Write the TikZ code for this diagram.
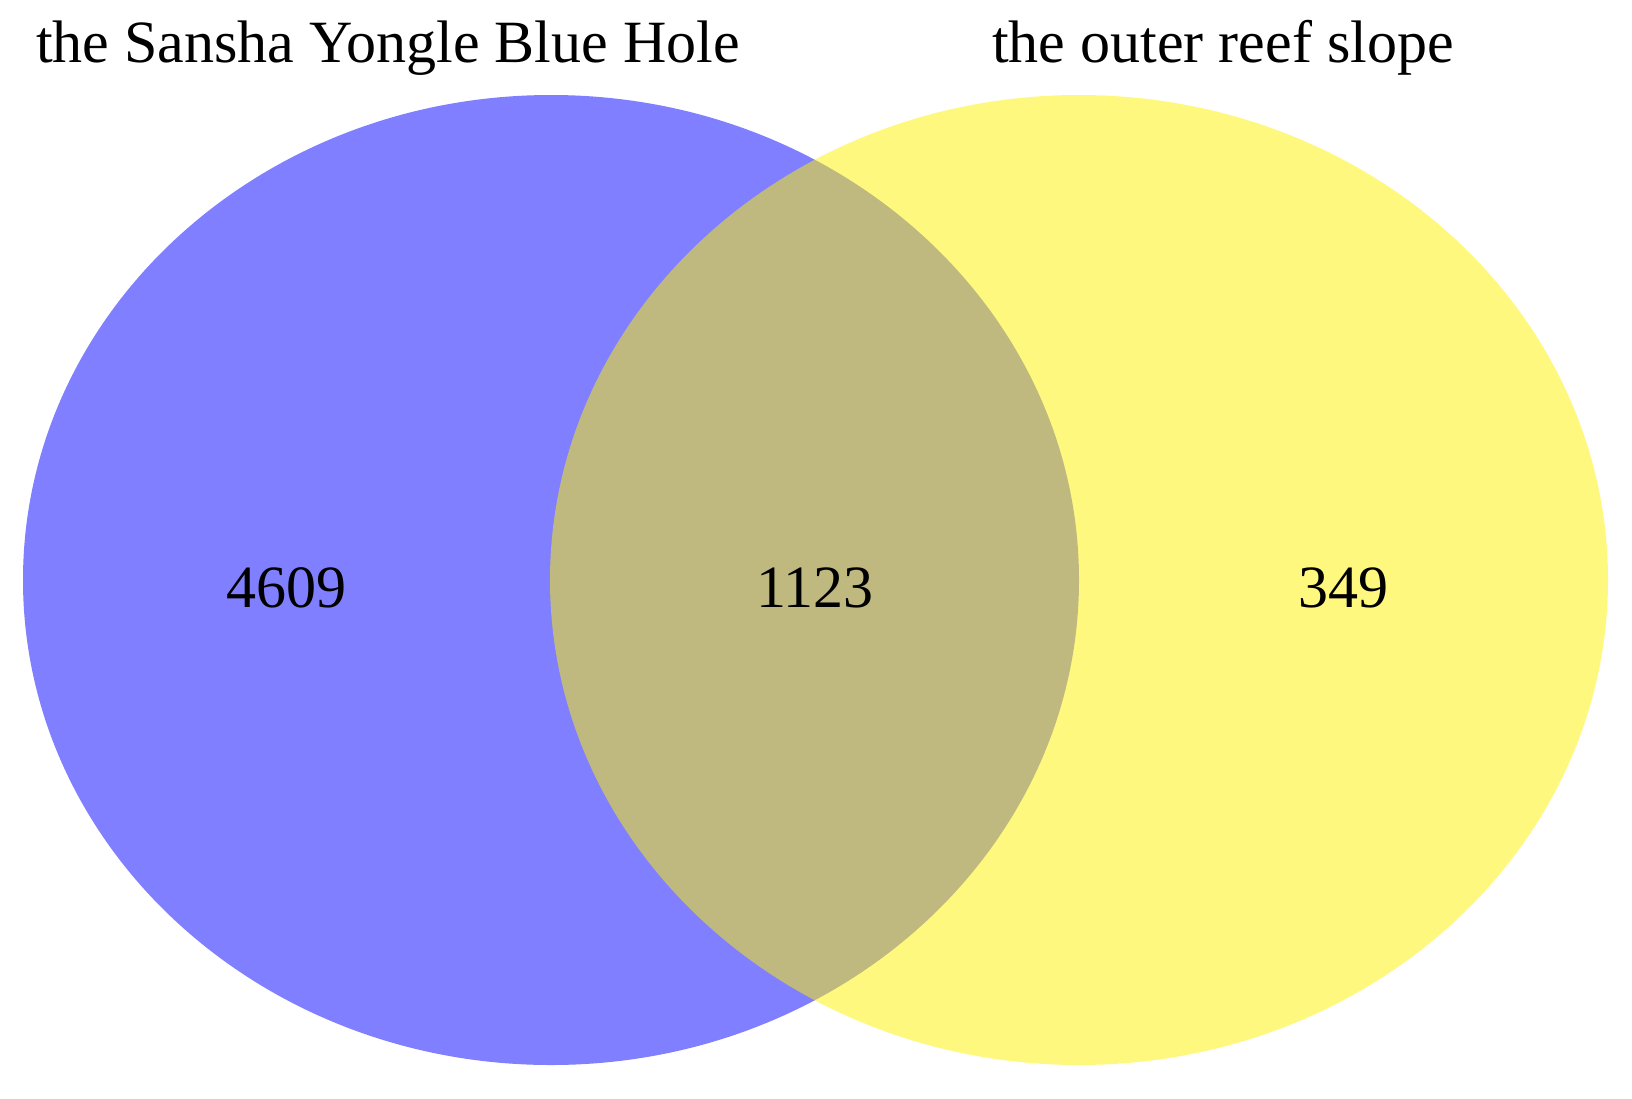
\documentclass[tikz,border=0pt]{standalone}
\usepackage{fontspec}
\setmainfont{Liberation Serif}
\begin{document}
\begin{tikzpicture}[x=1pt,y=-1pt,
  setlabel/.style={anchor=base,font=\fontsize{60}{72}\selectfont,inner sep=0pt},
  countlabel/.style={anchor=base,font=\fontsize{60}{72}\selectfont,inner sep=0pt}]
\useasboundingbox (0,0) rectangle (1632,1098);
\fill[white] (0,0) rectangle (1632,1098);
\fill[blue,fill opacity=0.5] (551,580) ellipse [x radius=528, y radius=485];
\fill[yellow,fill opacity=0.5] (1079,580) ellipse [x radius=529, y radius=485];
\node[setlabel] (lblA) at (388,62) {the Sansha Yongle Blue Hole};
\node[setlabel] (lblB) at (1223,62) {the outer reef slope};
\node[countlabel] (nA) at (286,607) {4609};
\node[countlabel] (nAB) at (815,607) {1123};
\node[countlabel] (nB) at (1343,607) {349};
\end{tikzpicture}
\end{document}
